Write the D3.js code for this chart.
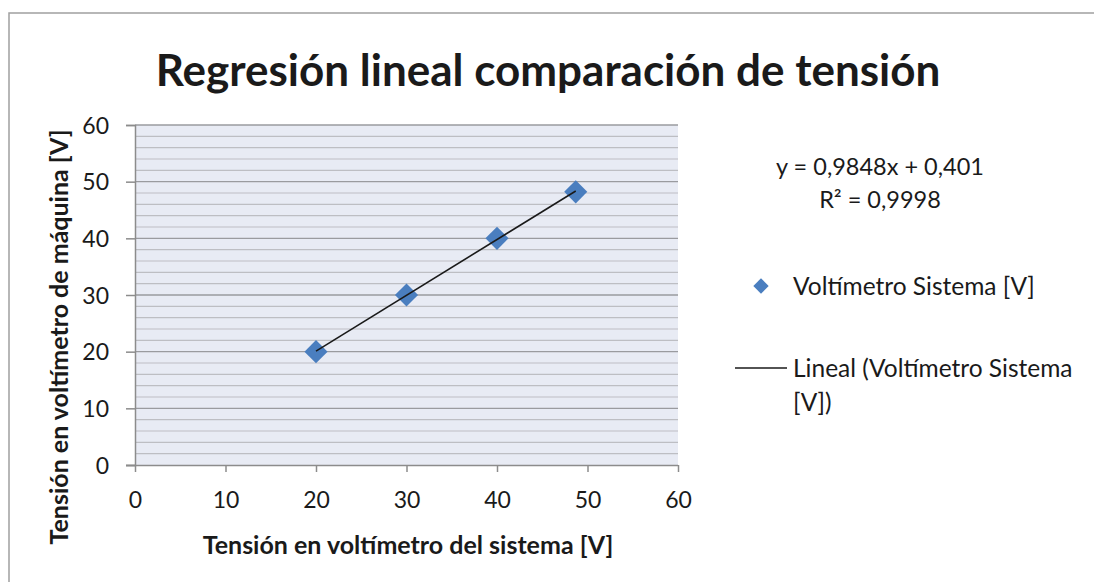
<!DOCTYPE html>
<html>
<head>
<meta charset="utf-8">
<script src="https://cdn.jsdelivr.net/npm/d3@7"></script>
<style>
  html, body { margin: 0; padding: 0; background: #fff; }
  svg { display: block; }
  text { font-family: Lato, "Open Sans", sans-serif; fill: #1a1a1a; }
</style>
</head>
<body>
<svg id="chart" width="1094" height="582"></svg>
<script>
// Measured voltages
const sistemaV = [20, 30, 40, 48.7];
const maquinaV = [20, 30, 40, 48.2];

// Linear trendline coefficients
const slope = 0.9848;
const intercept = 0.401;
const rSquared = 0.9998;

const xTicks = [0, 10, 20, 30, 40, 50, 60];
const yTicks = [0, 10, 20, 30, 40, 50, 60];
const yMinorTicks = d3.range(0, 61, 2);

const titleText = "Regresión lineal comparación de tensión";
const xTitle = "Tensión en voltímetro del sistema [V]";
const yTitle = "Tensión en voltímetro de máquina [V]";
const seriesName = "Voltímetro Sistema [V]";
const trendName = ["Lineal (Voltímetro Sistema", "[V])"];

const fmt = v => v.toString().replace(".", ",");
const FONT = "Lato, 'Open Sans', sans-serif";

const svg = d3.select("#chart");

// Chart frame
svg.append("rect")
  .attr("x", 9).attr("y", 13)
  .attr("width", 1090).attr("height", 590)
  .attr("fill", "#fff").attr("stroke", "#a0a0a0").attr("stroke-width", 1.5);

const plot = { left: 135, right: 678, top: 125, bottom: 465 };

const x = d3.scaleLinear().domain([0, 60]).range([plot.left, plot.right]);
const y = d3.scaleLinear().domain([0, 60]).range([plot.bottom, plot.top]);

// Plot area background
svg.append("rect")
  .attr("x", plot.left).attr("y", plot.top)
  .attr("width", plot.right - plot.left).attr("height", plot.bottom - plot.top)
  .attr("fill", "#e8ebf4");

// Minor gridlines
svg.append("g").selectAll("line")
  .data(yMinorTicks.filter(v => v % 10 !== 0))
  .join("line")
  .attr("x1", plot.left).attr("x2", plot.right)
  .attr("y1", d => y(d)).attr("y2", d => y(d))
  .attr("stroke", "#bdbec3").attr("stroke-width", 1.2);

// Major gridlines
svg.append("g").selectAll("line")
  .data(yTicks.filter(v => v > 0))
  .join("line")
  .attr("x1", plot.left).attr("x2", plot.right)
  .attr("y1", d => y(d)).attr("y2", d => y(d))
  .attr("stroke", "#9a9b9f").attr("stroke-width", 1.3);

// Axes
const xAxis = svg.append("g")
  .attr("transform", `translate(0,${plot.bottom})`)
  .call(d3.axisBottom(x).tickValues(xTicks).tickSize(7).tickPadding(20).tickFormat(d3.format("d")));
const yAxis = svg.append("g")
  .attr("transform", `translate(${plot.left},0)`)
  .call(d3.axisLeft(y).tickValues(yTicks).tickSize(9).tickPadding(17).tickFormat(d3.format("d")));

[xAxis, yAxis].forEach(g => {
  g.select(".domain").attr("stroke", "#8c8c8c").attr("stroke-width", 1.5);
  g.selectAll(".tick line").attr("stroke", "#8c8c8c").attr("stroke-width", 1.5);
  g.selectAll(".tick text")
    .attr("fill", "#1a1a1a")
    .style("font-family", FONT)
    .style("font-size", "23px");
});
yAxis.selectAll(".tick text").attr("dy", "0.36em");
xAxis.select(".domain").attr("d", `M${plot.left - 9},0.5H${plot.right}`);

// Data markers
const diamond = d3.symbol().type(d3.symbolDiamond2).size(340);
svg.append("g").selectAll("path")
  .data(sistemaV.map((v, i) => [v, maquinaV[i]]))
  .join("path")
  .attr("transform", d => `translate(${x(d[0])},${y(d[1])})`)
  .attr("d", diamond)
  .attr("fill", "#4a7ebf");

// Trendline over the measured range
const xr = d3.extent(sistemaV);
svg.append("line")
  .attr("x1", x(xr[0])).attr("y1", y(slope * xr[0] + intercept))
  .attr("x2", x(xr[1])).attr("y2", y(slope * xr[1] + intercept))
  .attr("stroke", "#1a1a1a").attr("stroke-width", 1.6);

// Title
svg.append("text")
  .attr("x", 548).attr("y", 86)
  .attr("text-anchor", "middle")
  .style("font-size", "44px").style("font-weight", "bold")
  .text(titleText);

// Axis titles
svg.append("text")
  .attr("x", 408).attr("y", 554)
  .attr("text-anchor", "middle")
  .style("font-size", "25px").style("font-weight", "bold")
  .text(xTitle);

svg.append("text")
  .attr("transform", `translate(68,337) rotate(-90)`)
  .attr("text-anchor", "middle")
  .style("font-size", "25px").style("font-weight", "bold")
  .text(yTitle);

// Regression equation
svg.append("text")
  .attr("x", 880).attr("y", 175)
  .attr("text-anchor", "middle")
  .style("font-size", "23.5px")
  .text(`y = ${fmt(slope)}x + ${fmt(intercept)}`);
svg.append("text")
  .attr("x", 880).attr("y", 208)
  .attr("text-anchor", "middle")
  .style("font-size", "23.5px")
  .text(`R² = ${fmt(rSquared)}`);

// Legend
const legend = svg.append("g");
legend.append("path")
  .attr("transform", "translate(761,286)")
  .attr("d", d3.symbol().type(d3.symbolDiamond2).size(150))
  .attr("fill", "#4a7ebf");
legend.append("text")
  .attr("x", 793).attr("y", 286).attr("dy", "0.36em")
  .style("font-size", "24.5px")
  .text(seriesName);
legend.append("line")
  .attr("x1", 735).attr("x2", 787).attr("y1", 368).attr("y2", 368)
  .attr("stroke", "#1a1a1a").attr("stroke-width", 1.4);
legend.selectAll("text.tl")
  .data(trendName)
  .join("text")
  .attr("class", "tl")
  .attr("x", 793).attr("y", (d, i) => 368 + i * 34).attr("dy", "0.36em")
  .style("font-size", "24.5px")
  .text(d => d);
</script>
</body>
</html>
